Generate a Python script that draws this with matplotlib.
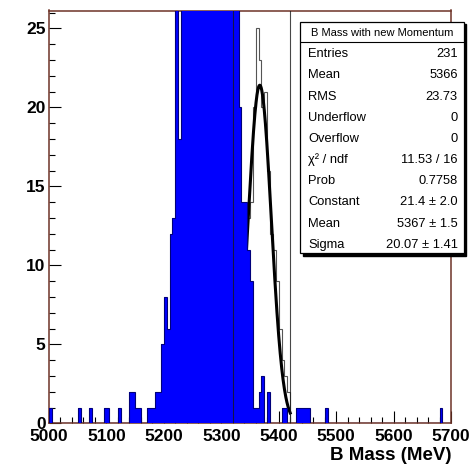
import numpy as np
import matplotlib.pyplot as plt
from matplotlib.patches import Rectangle
from matplotlib.ticker import MultipleLocator

plt.rcParams['font.family'] = ['Liberation Sans', 'DejaVu Sans']

# all B candidates, 5 MeV bins (only the filled bins are listed)
all_bin_lo = [5000, 5050, 5070, 5095, 5100, 5120, 5140, 5145, 5150, 5155,
              5170, 5175, 5180, 5185, 5190, 5195, 5200, 5205, 5210, 5215,
              5220, 5225, 5230, 5235, 5240, 5245, 5250, 5255, 5260, 5265,
              5270, 5275, 5280, 5285, 5290, 5295, 5300, 5305, 5310, 5315,
              5320, 5325, 5330, 5335, 5340, 5345, 5350, 5355, 5360, 5365,
              5370, 5380, 5405, 5410, 5430, 5435, 5440, 5445, 5450, 5480,
              5680]
all_counts = [1, 1, 1, 1, 1, 1, 2, 2, 1, 1,
              1, 1, 1, 2, 2, 5, 8, 6, 12, 13,
              29, 18, 33, 37, 41, 44, 47, 49, 51, 52,
              51, 49, 47, 45, 43, 41, 38, 36, 33, 31,
              29, 27, 20, 14, 14, 11, 9, 1, 1, 2,
              3, 2, 1, 1, 1, 1, 1, 1, 1, 1,
              1]

# candidates with the new momentum, mass window 5320-5420
sig_bin_lo = [5320, 5325, 5330, 5335, 5340, 5345, 5350, 5355, 5360, 5365,
              5370, 5375, 5380, 5385, 5390, 5395, 5400, 5405, 5410, 5415]
sig_counts = [3, 4, 6, 8, 11, 13, 14, 20, 25, 23,
              20, 21, 16, 12, 11, 9, 6, 4, 3, 2]

# gaussian fit result
fit_const, fit_mean, fit_sigma = 21.4, 5367.0, 20.07
window = [5320, 5420]

stat_names = ['Entries', 'Mean', 'RMS', 'Underflow', 'Overflow',
              'χ² / ndf', 'Prob', 'Constant', 'Mean', 'Sigma']
stat_values = ['231', '5366', '23.73', '0', '0',
               '11.53 / 16', '0.7758', '21.4 ± 2.0', '5367 ± 1.5', '20.07 ± 1.41']

binw = 5
edges = np.arange(5000, 5700 + binw, binw)
counts = np.zeros(len(edges) - 1)
counts[(np.array(all_bin_lo) - 5000) // binw] = all_counts

sig_edges = np.append(sig_bin_lo, sig_bin_lo[-1] + binw)

W, H = 472, 466
fig = plt.figure(figsize=(W / 100, H / 100), dpi=100)
ax = fig.add_axes([49 / W, 42.7 / H, 402 / W, 412.8 / H])

ax.stairs(sig_counts, sig_edges, fill=True, facecolor='white', zorder=1.5)
ax.stairs(sig_counts, sig_edges, color='#555555', lw=0.8, zorder=1.6)

xf = np.linspace(window[0], window[1], 300)
yf = fit_const * np.exp(-0.5 * ((xf - fit_mean) / fit_sigma) ** 2)
ax.plot(xf, yf, color='black', lw=2.2, zorder=2)

ax.stairs(counts, edges, fill=True, color='#0000ff', zorder=3)
ax.stairs(counts, edges, color='#00007a', lw=0.8, zorder=3.1)

for xv in window:
    ax.axvline(xv, color='#1a1a1a', lw=0.8, alpha=0.8, zorder=4)

ax.set_xlim(5000, 5700)
ax.set_ylim(0, 26.13)
ax.set_xticks(range(5000, 5701, 100))
ax.set_yticks(range(0, 26, 5))
ax.xaxis.set_minor_locator(MultipleLocator(20))
ax.yaxis.set_minor_locator(MultipleLocator(1))
ax.tick_params(which='both', direction='in', top=False, right=False,
               color='black', width=0.8)
ax.tick_params(which='major', length=8.6, labelsize=12.5)
ax.tick_params(which='minor', length=4.3)
ax.tick_params(axis='x', pad=4)
ax.tick_params(axis='y', pad=2.4)
plt.setp(ax.get_xticklabels() + ax.get_yticklabels(), fontweight='bold')
for sp in ax.spines.values():
    sp.set_color('#6e3327')
    sp.set_linewidth(1.1)

ax.set_xlabel('B Mass (MeV)', fontsize=13.5, fontweight='bold', ha='right')
ax.xaxis.set_label_coords(1.0, -0.058)

# statistics box
bw, bh = 163.5, 231.3
box = fig.add_axes([300 / W, (H - 253) / H, bw / W, bh / H])
box.set_xlim(0, bw)
box.set_ylim(bh, 0)
box.axis('off')
box.add_patch(Rectangle((2.5, 2.5), bw, bh, color='black', clip_on=False))
box.add_patch(Rectangle((0, 0), bw, bh, facecolor='white', edgecolor='black',
                        lw=0.9, clip_on=False))
box.plot([0, bw], [20, 20], color='black', lw=0.8)
box.text(bw / 2, 11, 'B Mass with new Momentum', ha='center', va='center',
         fontsize=8)
for i, (name, val) in enumerate(zip(stat_names, stat_values)):
    y = 32.5 + 21.17 * i
    box.text(8.3, y, name, ha='left', va='center', fontsize=9.3)
    box.text(157.7, y, val, ha='right', va='center', fontsize=9.3)

fig.savefig('out.png', dpi=100)
